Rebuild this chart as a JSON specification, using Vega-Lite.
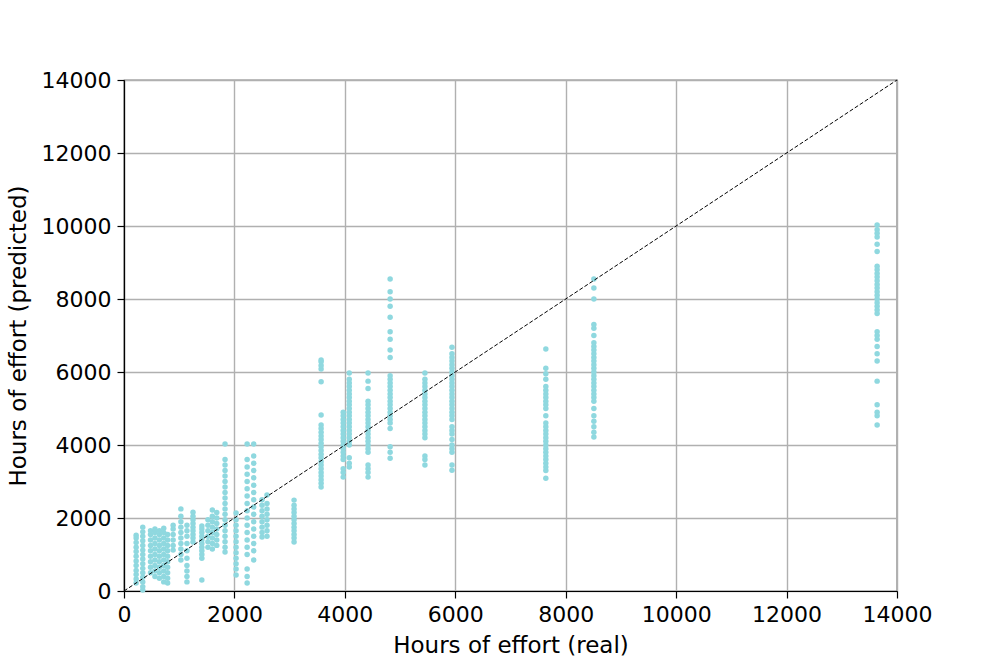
{
  "$schema": "https://vega.github.io/schema/vega-lite/v6.json",
  "width": 773,
  "height": 511,
  "autosize": {"type": "none"},
  "padding": {"left": 124, "top": 80, "right": 100, "bottom": 73},
  "background": "white",
  "config": {
    "font": "DejaVu Sans",
    "view": {"stroke": "black", "strokeWidth": 1.2},
    "axis": {
      "domainColor": "black", "domainWidth": 1.2,
      "tickColor": "black", "tickSize": 7, "tickWidth": 1.2,
      "gridColor": "#b0b0b0", "gridWidth": 1.4,
      "labelFontSize": 22, "titleFontSize": 23, "titleFontWeight": "normal",
      "labelColor": "black", "titleColor": "black", "labelPadding": 6,
      "labelFlush": false, "format": "d"
    }
  },
  "layer": [
    {
      "data": {"values": [
        {"x":220,"y":220},{"x":220,"y":330},{"x":220,"y":450},{"x":220,"y":560},{"x":220,"y":700},{"x":220,"y":820},{"x":220,"y":950},{"x":220,"y":1080},{"x":220,"y":1200},{"x":220,"y":1330},{"x":220,"y":1450},{"x":220,"y":1530},
        {"x":340,"y":30},{"x":340,"y":120},{"x":340,"y":250},{"x":340,"y":380},{"x":340,"y":500},{"x":340,"y":620},{"x":340,"y":750},{"x":340,"y":880},{"x":340,"y":1000},{"x":340,"y":1120},{"x":340,"y":1250},{"x":340,"y":1380},{"x":340,"y":1500},{"x":340,"y":1620},{"x":340,"y":1750},
        {"x":480,"y":500},{"x":480,"y":650},{"x":480,"y":800},{"x":480,"y":950},{"x":480,"y":1100},{"x":480,"y":1250},{"x":480,"y":1400},{"x":480,"y":1550},{"x":480,"y":1650},
        {"x":560,"y":400},{"x":560,"y":550},{"x":560,"y":700},{"x":560,"y":850},{"x":560,"y":1000},{"x":560,"y":1150},{"x":560,"y":1300},{"x":560,"y":1450},{"x":560,"y":1600},{"x":560,"y":1700},
        {"x":640,"y":350},{"x":640,"y":500},{"x":640,"y":650},{"x":640,"y":800},{"x":640,"y":950},{"x":640,"y":1100},{"x":640,"y":1250},{"x":640,"y":1400},{"x":640,"y":1550},{"x":640,"y":1650},
        {"x":720,"y":250},{"x":720,"y":400},{"x":720,"y":550},{"x":720,"y":700},{"x":720,"y":850},{"x":720,"y":1000},{"x":720,"y":1150},{"x":720,"y":1300},{"x":720,"y":1450},{"x":720,"y":1600},{"x":720,"y":1720},
        {"x":790,"y":220},{"x":790,"y":350},{"x":790,"y":500},{"x":790,"y":650},{"x":790,"y":800},{"x":790,"y":950},{"x":790,"y":1100},{"x":790,"y":1250},{"x":790,"y":1400},{"x":790,"y":1550},
        {"x":890,"y":1120},{"x":890,"y":1250},{"x":890,"y":1400},{"x":890,"y":1550},{"x":890,"y":1700},{"x":890,"y":1800},
        {"x":1030,"y":850},{"x":1030,"y":1000},{"x":1030,"y":1150},{"x":1030,"y":1300},{"x":1030,"y":1450},{"x":1030,"y":1600},{"x":1030,"y":1750},{"x":1030,"y":1900},{"x":1030,"y":2050},{"x":1030,"y":2250},
        {"x":1140,"y":250},{"x":1140,"y":400},{"x":1140,"y":550},{"x":1140,"y":700},{"x":1140,"y":900},{"x":1140,"y":1100},{"x":1140,"y":1300},{"x":1140,"y":1500},{"x":1140,"y":1650},{"x":1140,"y":1800},
        {"x":1250,"y":1340},{"x":1250,"y":1450},{"x":1250,"y":1550},{"x":1250,"y":1650},{"x":1250,"y":1750},{"x":1250,"y":1850},{"x":1250,"y":1950},{"x":1250,"y":2050},{"x":1250,"y":2160},
        {"x":1410,"y":300},{"x":1410,"y":900},{"x":1410,"y":1000},{"x":1410,"y":1100},{"x":1410,"y":1200},{"x":1410,"y":1300},{"x":1410,"y":1400},{"x":1410,"y":1500},{"x":1410,"y":1600},{"x":1410,"y":1700},{"x":1410,"y":1780},
        {"x":1520,"y":1200},{"x":1520,"y":1350},{"x":1520,"y":1500},{"x":1520,"y":1650},{"x":1520,"y":1800},{"x":1520,"y":1950},
        {"x":1600,"y":1150},{"x":1600,"y":1300},{"x":1600,"y":1450},{"x":1600,"y":1600},{"x":1600,"y":1750},{"x":1600,"y":1900},{"x":1600,"y":2050},{"x":1600,"y":2220},
        {"x":1680,"y":1250},{"x":1680,"y":1400},{"x":1680,"y":1550},{"x":1680,"y":1700},{"x":1680,"y":1850},{"x":1680,"y":2000},{"x":1680,"y":2150},
        {"x":1830,"y":1070},{"x":1830,"y":1200},{"x":1830,"y":1350},{"x":1830,"y":1500},{"x":1830,"y":1650},{"x":1830,"y":1800},{"x":1830,"y":1950},{"x":1830,"y":2100},{"x":1830,"y":2250},{"x":1830,"y":2400},{"x":1830,"y":2550},{"x":1830,"y":2700},{"x":1830,"y":2850},{"x":1830,"y":3000},{"x":1830,"y":3150},{"x":1830,"y":3300},{"x":1830,"y":3450},{"x":1830,"y":3600},{"x":1830,"y":4030},
        {"x":2030,"y":440},{"x":2030,"y":600},{"x":2030,"y":750},{"x":2030,"y":900},{"x":2030,"y":1050},{"x":2030,"y":1200},{"x":2030,"y":1350},{"x":2030,"y":1500},{"x":2030,"y":1650},{"x":2030,"y":1800},{"x":2030,"y":1950},{"x":2030,"y":2140},
        {"x":2230,"y":220},{"x":2230,"y":400},{"x":2230,"y":600},{"x":2230,"y":1000},{"x":2230,"y":1200},{"x":2230,"y":1400},{"x":2230,"y":1600},{"x":2230,"y":1800},{"x":2230,"y":2000},{"x":2230,"y":2200},{"x":2230,"y":2400},{"x":2230,"y":2600},{"x":2230,"y":2800},{"x":2230,"y":3000},{"x":2230,"y":3200},{"x":2230,"y":3400},{"x":2230,"y":3600},{"x":2230,"y":4030},
        {"x":2350,"y":850},{"x":2350,"y":1100},{"x":2350,"y":1300},{"x":2350,"y":1500},{"x":2350,"y":1700},{"x":2350,"y":1900},{"x":2350,"y":2100},{"x":2350,"y":2300},{"x":2350,"y":2500},{"x":2350,"y":2700},{"x":2350,"y":2900},{"x":2350,"y":3100},{"x":2350,"y":3300},{"x":2350,"y":3500},{"x":2350,"y":3700},{"x":2350,"y":4030},
        {"x":2500,"y":1480},{"x":2500,"y":1600},{"x":2500,"y":1750},{"x":2500,"y":1900},{"x":2500,"y":2050},{"x":2500,"y":2200},{"x":2500,"y":2350},{"x":2500,"y":2500},
        {"x":2590,"y":1500},{"x":2590,"y":1650},{"x":2590,"y":1800},{"x":2590,"y":1950},{"x":2590,"y":2100},{"x":2590,"y":2250},{"x":2590,"y":2400},{"x":2590,"y":2630},
        {"x":3080,"y":1340},{"x":3080,"y":1450},{"x":3080,"y":1550},{"x":3080,"y":1650},{"x":3080,"y":1750},{"x":3080,"y":1850},{"x":3080,"y":1950},{"x":3080,"y":2050},{"x":3080,"y":2150},{"x":3080,"y":2250},{"x":3080,"y":2350},{"x":3080,"y":2490},
        {"x":3570,"y":2850},{"x":3570,"y":2950},{"x":3570,"y":3050},{"x":3570,"y":3150},{"x":3570,"y":3250},{"x":3570,"y":3350},{"x":3570,"y":3450},{"x":3570,"y":3550},{"x":3570,"y":3650},{"x":3570,"y":3750},{"x":3570,"y":3850},{"x":3570,"y":3950},{"x":3570,"y":4050},{"x":3570,"y":4150},{"x":3570,"y":4250},{"x":3570,"y":4350},{"x":3570,"y":4450},{"x":3570,"y":4550},{"x":3570,"y":4820},{"x":3570,"y":5730},{"x":3570,"y":6080},{"x":3570,"y":6180},{"x":3570,"y":6280},{"x":3570,"y":6330},
        {"x":3970,"y":3120},{"x":3970,"y":3250},{"x":3970,"y":3350},{"x":3970,"y":3600},{"x":3970,"y":3700},{"x":3970,"y":3800},{"x":3970,"y":3900},{"x":3970,"y":4000},{"x":3970,"y":4100},{"x":3970,"y":4200},{"x":3970,"y":4300},{"x":3970,"y":4400},{"x":3970,"y":4500},{"x":3970,"y":4600},{"x":3970,"y":4700},{"x":3970,"y":4800},{"x":3970,"y":4900},
        {"x":4080,"y":3400},{"x":4080,"y":3500},{"x":4080,"y":3650},{"x":4080,"y":4000},{"x":4080,"y":4100},{"x":4080,"y":4200},{"x":4080,"y":4300},{"x":4080,"y":4400},{"x":4080,"y":4500},{"x":4080,"y":4600},{"x":4080,"y":4700},{"x":4080,"y":4800},{"x":4080,"y":4900},{"x":4080,"y":5000},{"x":4080,"y":5100},{"x":4080,"y":5200},{"x":4080,"y":5300},{"x":4080,"y":5400},{"x":4080,"y":5500},{"x":4080,"y":5600},{"x":4080,"y":5700},{"x":4080,"y":5800},{"x":4080,"y":5970},
        {"x":4420,"y":3120},{"x":4420,"y":3250},{"x":4420,"y":3350},{"x":4420,"y":3450},{"x":4420,"y":3800},{"x":4420,"y":3900},{"x":4420,"y":4000},{"x":4420,"y":4100},{"x":4420,"y":4200},{"x":4420,"y":4300},{"x":4420,"y":4400},{"x":4420,"y":4500},{"x":4420,"y":4600},{"x":4420,"y":4700},{"x":4420,"y":4800},{"x":4420,"y":4900},{"x":4420,"y":5000},{"x":4420,"y":5100},{"x":4420,"y":5200},{"x":4420,"y":5550},{"x":4420,"y":5750},{"x":4420,"y":5970},
        {"x":4820,"y":3640},{"x":4820,"y":3800},{"x":4820,"y":3950},{"x":4820,"y":4450},{"x":4820,"y":4600},{"x":4820,"y":4700},{"x":4820,"y":4800},{"x":4820,"y":4900},{"x":4820,"y":5000},{"x":4820,"y":5100},{"x":4820,"y":5200},{"x":4820,"y":5300},{"x":4820,"y":5400},{"x":4820,"y":5500},{"x":4820,"y":5600},{"x":4820,"y":5700},{"x":4820,"y":5800},{"x":4820,"y":5900},{"x":4820,"y":6400},{"x":4820,"y":6600},{"x":4820,"y":6900},{"x":4820,"y":7100},{"x":4820,"y":7500},{"x":4820,"y":7800},{"x":4820,"y":8000},{"x":4820,"y":8200},{"x":4820,"y":8550},
        {"x":5450,"y":3450},{"x":5450,"y":3600},{"x":5450,"y":3700},{"x":5450,"y":4200},{"x":5450,"y":4300},{"x":5450,"y":4400},{"x":5450,"y":4500},{"x":5450,"y":4600},{"x":5450,"y":4700},{"x":5450,"y":4800},{"x":5450,"y":4900},{"x":5450,"y":5000},{"x":5450,"y":5100},{"x":5450,"y":5200},{"x":5450,"y":5300},{"x":5450,"y":5400},{"x":5450,"y":5500},{"x":5450,"y":5600},{"x":5450,"y":5700},{"x":5450,"y":5800},{"x":5450,"y":5970},
        {"x":5940,"y":3310},{"x":5940,"y":3450},{"x":5940,"y":3800},{"x":5940,"y":3900},{"x":5940,"y":4000},{"x":5940,"y":4150},{"x":5940,"y":4300},{"x":5940,"y":4400},{"x":5940,"y":4500},{"x":5940,"y":4700},{"x":5940,"y":4800},{"x":5940,"y":4900},{"x":5940,"y":5000},{"x":5940,"y":5100},{"x":5940,"y":5200},{"x":5940,"y":5300},{"x":5940,"y":5400},{"x":5940,"y":5500},{"x":5940,"y":5600},{"x":5940,"y":5700},{"x":5940,"y":5800},{"x":5940,"y":5900},{"x":5940,"y":6000},{"x":5940,"y":6100},{"x":5940,"y":6200},{"x":5940,"y":6300},{"x":5940,"y":6400},{"x":5940,"y":6500},{"x":5940,"y":6680},
        {"x":7640,"y":3090},{"x":7640,"y":3300},{"x":7640,"y":3400},{"x":7640,"y":3500},{"x":7640,"y":3600},{"x":7640,"y":3700},{"x":7640,"y":3800},{"x":7640,"y":3900},{"x":7640,"y":4000},{"x":7640,"y":4100},{"x":7640,"y":4200},{"x":7640,"y":4300},{"x":7640,"y":4400},{"x":7640,"y":4500},{"x":7640,"y":4600},{"x":7640,"y":4800},{"x":7640,"y":5000},{"x":7640,"y":5100},{"x":7640,"y":5200},{"x":7640,"y":5300},{"x":7640,"y":5400},{"x":7640,"y":5500},{"x":7640,"y":5600},{"x":7640,"y":5800},{"x":7640,"y":5950},{"x":7640,"y":6100},{"x":7640,"y":6630},
        {"x":8510,"y":4220},{"x":8510,"y":4350},{"x":8510,"y":4500},{"x":8510,"y":4650},{"x":8510,"y":4800},{"x":8510,"y":5000},{"x":8510,"y":5200},{"x":8510,"y":5300},{"x":8510,"y":5400},{"x":8510,"y":5500},{"x":8510,"y":5600},{"x":8510,"y":5700},{"x":8510,"y":5800},{"x":8510,"y":5900},{"x":8510,"y":6000},{"x":8510,"y":6100},{"x":8510,"y":6200},{"x":8510,"y":6300},{"x":8510,"y":6400},{"x":8510,"y":6500},{"x":8510,"y":6600},{"x":8510,"y":6700},{"x":8510,"y":6800},{"x":8510,"y":7000},{"x":8510,"y":7200},{"x":8510,"y":7300},{"x":8510,"y":8000},{"x":8510,"y":8300},{"x":8510,"y":8550},
        {"x":13640,"y":4550},{"x":13640,"y":4800},{"x":13640,"y":4900},{"x":13640,"y":5100},{"x":13640,"y":5750},{"x":13640,"y":6300},{"x":13640,"y":6500},{"x":13640,"y":6700},{"x":13640,"y":6900},{"x":13640,"y":7000},{"x":13640,"y":7100},{"x":13640,"y":7600},{"x":13640,"y":7700},{"x":13640,"y":7800},{"x":13640,"y":7900},{"x":13640,"y":8000},{"x":13640,"y":8100},{"x":13640,"y":8200},{"x":13640,"y":8300},{"x":13640,"y":8400},{"x":13640,"y":8500},{"x":13640,"y":8600},{"x":13640,"y":8700},{"x":13640,"y":8800},{"x":13640,"y":8900},{"x":13640,"y":9300},{"x":13640,"y":9500},{"x":13640,"y":9700},{"x":13640,"y":9800},{"x":13640,"y":9900},{"x":13640,"y":10030}
      ]},
      "mark": {"type": "circle", "size": 30, "color": "#8fd8df", "opacity": 1},
      "encoding": {
        "x": {"field": "x", "type": "quantitative", "scale": {"domain": [0, 14000], "nice": false}, "axis": {"title": "Hours of effort (real)", "values": [0,2000,4000,6000,8000,10000,12000,14000], "titlePadding": 9}},
        "y": {"field": "y", "type": "quantitative", "scale": {"domain": [0, 14000], "nice": false}, "axis": {"title": "Hours of effort (predicted)", "values": [0,2000,4000,6000,8000,10000,12000,14000], "titlePadding": 11}}
      }
    },
    {
      "data": {"values": [{"x": 0, "y": 0}, {"x": 14000, "y": 14000}]},
      "mark": {"type": "line", "color": "black", "strokeWidth": 1, "strokeDash": [4, 2]},
      "encoding": {
        "x": {"field": "x", "type": "quantitative"},
        "y": {"field": "y", "type": "quantitative"}
      }
    }
  ]
}
